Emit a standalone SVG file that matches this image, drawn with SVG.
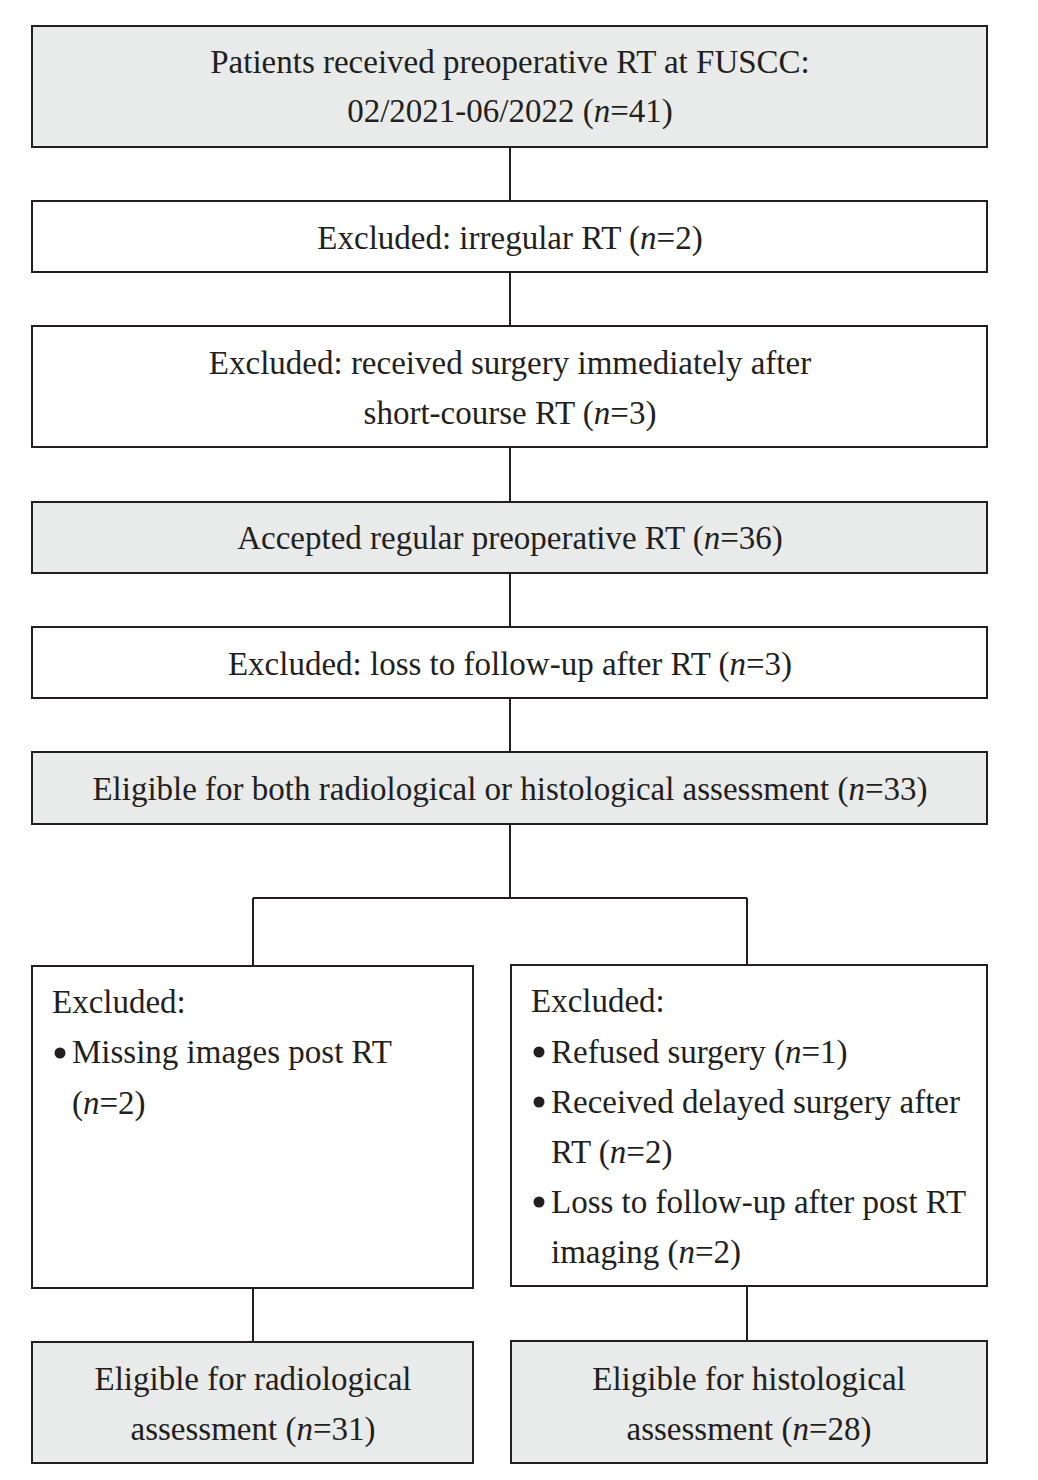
<svg xmlns="http://www.w3.org/2000/svg" width="1038" height="1480" viewBox="0 0 1038 1480">
<style>
.box{stroke:#231f20;stroke-width:2;fill:#ffffff}
.fill{fill:#e9eaea}
.t{font-family:"Liberation Serif","Times New Roman",serif;font-size:33px;fill:#231f20}
.c{text-anchor:middle}
.conn{stroke:#231f20;stroke-width:2;fill:none}
</style>
<rect width="1038" height="1480" fill="#ffffff"/>
<g id="connectors">
<path class="conn" d="M510 147V201M510 272V326M510 447V502M510 573V627M510 698V752M510 824V898M253 898H747M253 898V966M747 898V965M253 1288V1342M747 1286V1341"/>
</g>
<g id="n1"><rect class="box fill" x="32" y="26" width="955" height="121"/>
<text class="t c" x="510" y="73">Patients received preoperative RT at FUSCC:</text>
<text class="t c" x="510" y="122">02/2021-06/2022 (<tspan font-style="italic">n</tspan>=41)</text></g>
<g id="n2"><rect class="box" x="32" y="201" width="955" height="71"/>
<text class="t c" x="510" y="249">Excluded: irregular RT (<tspan font-style="italic">n</tspan>=2)</text></g>
<g id="n3"><rect class="box" x="32" y="326" width="955" height="121"/>
<text class="t c" x="510" y="374">Excluded: received surgery immediately after</text>
<text class="t c" x="510" y="424">short-course RT (<tspan font-style="italic">n</tspan>=3)</text></g>
<g id="n4"><rect class="box fill" x="32" y="502" width="955" height="71"/>
<text class="t c" x="510" y="549">Accepted regular preoperative RT (<tspan font-style="italic">n</tspan>=36)</text></g>
<g id="n5"><rect class="box" x="32" y="627" width="955" height="71"/>
<text class="t c" x="510" y="675">Excluded: loss to follow-up after RT (<tspan font-style="italic">n</tspan>=3)</text></g>
<g id="n6"><rect class="box fill" x="32" y="752" width="955" height="72"/>
<text class="t c" x="510" y="800">Eligible for both radiological or histological assessment (<tspan font-style="italic">n</tspan>=33)</text></g>
<g id="n7"><rect class="box" x="32" y="966" width="441" height="322"/>
<text class="t" x="52" y="1013">Excluded:</text>
<circle cx="60" cy="1053" r="5.5" fill="#231f20"/>
<text class="t" x="72" y="1063">Missing images post RT</text>
<text class="t" x="72" y="1114">(<tspan font-style="italic">n</tspan>=2)</text></g>
<g id="n8"><rect class="box" x="511" y="965" width="476" height="321"/>
<text class="t" x="531" y="1012">Excluded:</text>
<circle cx="539" cy="1052" r="5.5" fill="#231f20"/>
<text class="t" x="551" y="1063">Refused surgery (<tspan font-style="italic">n</tspan>=1)</text>
<circle cx="539" cy="1102" r="5.5" fill="#231f20"/>
<text class="t" x="551" y="1113">Received delayed surgery after</text>
<text class="t" x="551" y="1163">RT (<tspan font-style="italic">n</tspan>=2)</text>
<circle cx="539" cy="1202" r="5.5" fill="#231f20"/>
<text class="t" x="551" y="1213">Loss to follow-up after post RT</text>
<text class="t" x="551" y="1263">imaging (<tspan font-style="italic">n</tspan>=2)</text></g>
<g id="n9"><rect class="box fill" x="32" y="1342" width="441" height="121"/>
<text class="t c" x="253" y="1390">Eligible for radiological</text>
<text class="t c" x="253" y="1440">assessment (<tspan font-style="italic">n</tspan>=31)</text></g>
<g id="n10"><rect class="box fill" x="511" y="1341" width="476" height="122"/>
<text class="t c" x="749" y="1390">Eligible for histological</text>
<text class="t c" x="749" y="1440">assessment (<tspan font-style="italic">n</tspan>=28)</text></g>
</svg>
